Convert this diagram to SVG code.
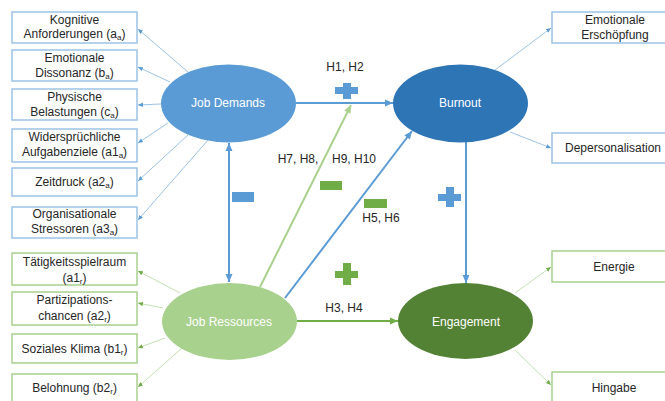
<svg xmlns="http://www.w3.org/2000/svg" width="665" height="401" viewBox="0 0 665 401">
<defs>
<marker id="ab" markerUnits="userSpaceOnUse" markerWidth="10" markerHeight="10" refX="9" refY="5" orient="auto"><path d="M1,1.5 L9,5 L1,8.5 Z" fill="#5b9bd5"/></marker>
<marker id="abs" markerUnits="userSpaceOnUse" markerWidth="10" markerHeight="10" refX="1" refY="5" orient="auto"><path d="M9,1.5 L1,5 L9,8.5 Z" fill="#5b9bd5"/></marker>
<marker id="ag" markerUnits="userSpaceOnUse" markerWidth="10" markerHeight="10" refX="9" refY="5" orient="auto"><path d="M1,1.5 L9,5 L1,8.5 Z" fill="#70ad47"/></marker>
<marker id="alg" markerUnits="userSpaceOnUse" markerWidth="10" markerHeight="10" refX="9" refY="5" orient="auto"><path d="M1,1.5 L9,5 L1,8.5 Z" fill="#a9d18e"/></marker>
<marker id="sb" markerUnits="userSpaceOnUse" markerWidth="6" markerHeight="6" refX="5" refY="3" orient="auto"><path d="M0,0.8 L5,3 L0,5.2 Z" fill="#5b9bd5"/></marker>
<marker id="sg" markerUnits="userSpaceOnUse" markerWidth="6" markerHeight="6" refX="5" refY="3" orient="auto"><path d="M0,0.8 L5,3 L0,5.2 Z" fill="#70ad47"/></marker>
</defs>
<style>
text{font-family:"Liberation Sans",Arial,sans-serif;font-size:12px;fill:#262626;text-anchor:middle}
.w{fill:#ffffff}
.bb{fill:#ffffff;stroke:#9dc3e6;stroke-width:1.5}
.gb{fill:#ffffff;stroke:#a9d18e;stroke-width:1.5}
.tb{stroke:#9dc3e6;stroke-width:1;fill:none;marker-end:url(#sb)}
.tg{stroke:#c5e0b4;stroke-width:1;fill:none;marker-end:url(#sg)}
.sub{font-size:8px}
</style>
<g id="connectors">
<line class="tb" x1="188" y1="72" x2="138" y2="29"/>
<line class="tb" x1="170" y1="82" x2="138" y2="67"/>
<line class="tb" x1="161" y1="104" x2="138" y2="105"/>
<line class="tb" x1="168" y1="123" x2="138" y2="143"/>
<line class="tb" x1="188" y1="135" x2="138" y2="181"/>
<line class="tb" x1="208" y1="140" x2="138" y2="220"/>
<line class="tg" x1="180" y1="293" x2="138" y2="271"/>
<line class="tg" x1="163" y1="308" x2="138" y2="303"/>
<line class="tg" x1="165" y1="338" x2="138" y2="348"/>
<line class="tg" x1="182" y1="348" x2="138" y2="387"/>
<line class="tb" x1="495" y1="70" x2="551" y2="28"/>
<line class="tb" x1="510" y1="132" x2="551" y2="148"/>
<line class="tg" x1="515" y1="293" x2="551" y2="267"/>
<line class="tg" x1="515" y1="350" x2="551" y2="385"/>
<line x1="296" y1="103" x2="393" y2="103" stroke="#5b9bd5" stroke-width="2" marker-end="url(#ab)"/>
<line x1="229" y1="143" x2="229" y2="282" stroke="#5b9bd5" stroke-width="2" marker-start="url(#abs)" marker-end="url(#ab)"/>
<line x1="260" y1="287" x2="351" y2="105" stroke="#a9d18e" stroke-width="2" marker-end="url(#alg)"/>
<line x1="285" y1="298" x2="412" y2="131" stroke="#5b9bd5" stroke-width="2" marker-end="url(#ab)"/>
<line x1="466" y1="142" x2="466" y2="283" stroke="#5b9bd5" stroke-width="2" marker-end="url(#ab)"/>
<line x1="297" y1="321" x2="398" y2="321" stroke="#70ad47" stroke-width="2" marker-end="url(#ag)"/>
</g>
<g id="symbols">
<rect x="335" y="87" width="23" height="7" fill="#5b9bd5"/>
<rect x="343" y="83" width="8" height="16" fill="#5b9bd5"/>
<rect x="335" y="271" width="23" height="7" fill="#70ad47"/>
<rect x="343" y="263" width="8" height="22" fill="#70ad47"/>
<rect x="438" y="194" width="23" height="7" fill="#5b9bd5"/>
<rect x="446" y="187" width="8" height="20" fill="#5b9bd5"/>
<rect x="232" y="192" width="22" height="10" fill="#5b9bd5"/>
<rect x="320" y="181" width="22" height="9" fill="#70ad47"/>
<rect x="364" y="199" width="23" height="9" fill="#70ad47"/>
<text x="345" y="71">H1, H2</text>
<text x="298" y="163">H7, H8,</text>
<text x="354" y="163">H9, H10</text>
<text x="381" y="222">H5, H6</text>
<text x="344" y="312">H3, H4</text>
</g>
<g id="job-demands"><ellipse cx="228.5" cy="103.5" rx="67.5" ry="39" fill="#5b9bd5"/><text class="w" x="228" y="107">Job Demands</text></g>
<g id="burnout"><ellipse cx="460.5" cy="103.5" rx="67.5" ry="39" fill="#2e75b6"/><text class="w" x="460" y="107">Burnout</text></g>
<g id="job-ressources"><ellipse cx="229.5" cy="321.5" rx="67.5" ry="38.5" fill="#a9d18e"/><text class="w" x="229" y="326">Job Ressources</text></g>
<g id="engagement"><ellipse cx="465.5" cy="321" rx="67.5" ry="38" fill="#548235"/><text class="w" x="466" y="326">Engagement</text></g>
<g id="kognitive"><rect class="bb" x="12" y="12" width="125" height="31"/><text x="74.5" y="24">Kognitive</text><text x="74.5" y="38">Anforderungen (a<tspan class="sub" dy="2">a</tspan><tspan dy="-2">)</tspan></text></g>
<g id="emotionale-dissonanz"><rect class="bb" x="12" y="50" width="125" height="31"/><text x="74.5" y="62">Emotionale</text><text x="74.5" y="77">Dissonanz (b<tspan class="sub" dy="2">a</tspan><tspan dy="-2">)</tspan></text></g>
<g id="physische"><rect class="bb" x="12" y="89" width="125" height="31"/><text x="74.5" y="101">Physische</text><text x="74.5" y="116">Belastungen (c<tspan class="sub" dy="2">a</tspan><tspan dy="-2">)</tspan></text></g>
<g id="widerspruechliche"><rect class="bb" x="12" y="129" width="125" height="33"/><text x="74.5" y="141">Widersprüchliche</text><text x="74.5" y="156">Aufgabenziele (a1<tspan class="sub" dy="2">a</tspan><tspan dy="-2">)</tspan></text></g>
<g id="zeitdruck"><rect class="bb" x="12" y="168" width="125" height="28"/><text x="74.5" y="186">Zeitdruck (a2<tspan class="sub" dy="2">a</tspan><tspan dy="-2">)</tspan></text></g>
<g id="organisationale"><rect class="bb" x="12" y="207" width="125" height="31"/><text x="74.5" y="218">Organisationale</text><text x="74.5" y="233">Stressoren (a3<tspan class="sub" dy="2">a</tspan><tspan dy="-2">)</tspan></text></g>
<g id="taetigkeitsspielraum"><rect class="gb" x="12" y="253" width="125" height="32"/><text x="74.5" y="266">Tätigkeitsspielraum</text><text x="74.5" y="282">(a1<tspan class="sub" dy="2">r</tspan><tspan dy="-2">)</tspan></text></g>
<g id="partizipation"><rect class="gb" x="12" y="292" width="125" height="33"/><text x="74.5" y="304">Partizipations-</text><text x="74.5" y="320">chancen (a2<tspan class="sub" dy="2">r</tspan><tspan dy="-2">)</tspan></text></g>
<g id="soziales-klima"><rect class="gb" x="12" y="334" width="125" height="29"/><text x="74.5" y="353">Soziales Klima (b1<tspan class="sub" dy="2">r</tspan><tspan dy="-2">)</tspan></text></g>
<g id="belohnung"><rect class="gb" x="12" y="374" width="125" height="32"/><text x="74.5" y="392">Belohnung (b2<tspan class="sub" dy="2">r</tspan><tspan dy="-2">)</tspan></text></g>
<g id="emotionale-erschoepfung"><rect class="bb" x="552" y="12" width="120" height="31"/><text x="615" y="24">Emotionale</text><text x="615" y="39">Erschöpfung</text></g>
<g id="depersonalisation"><rect class="bb" x="552" y="133" width="120" height="30"/><text x="613" y="152">Depersonalisation</text></g>
<g id="energie"><rect class="gb" x="552" y="251" width="120" height="31"/><text x="614" y="271">Energie</text></g>
<g id="hingabe"><rect class="gb" x="552" y="372" width="120" height="35"/><text x="614" y="392">Hingabe</text></g>
</svg>
